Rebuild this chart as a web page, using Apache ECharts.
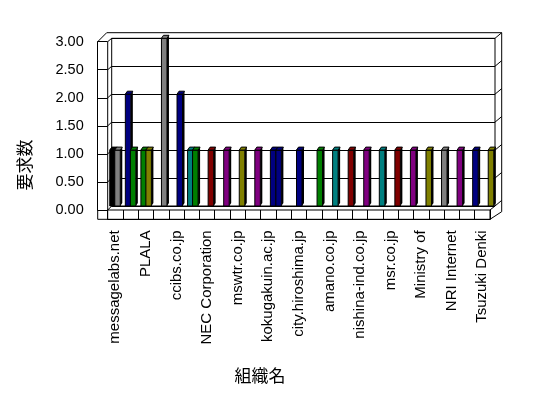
<!DOCTYPE html>
<html>
<head>
<meta charset="utf-8">
<script src="https://cdn.jsdelivr.net/npm/echarts@6/dist/echarts.min.js"></script>
<style>
html, body { margin: 0; padding: 0; background: #fff; }
#main { width: 548px; height: 398px; }
</style>
</head>
<body>
<div id="main"></div>
<script>
// 組織ごとの要求数（偶数番目だけラベル表示）
var categories = [
	'messagelabs.net', '', 'PLALA', '', 'ccibs.co.jp', '', 'NEC Corporation', '',
	'mswtr.co.jp', '', 'kokugakuin.ac.jp', '', 'city.hiroshima.jp', '', 'amano.co.jp', '',
	'nishina-ind.co.jp', '', 'msr.co.jp', '', 'Ministry of', '', 'NRI Internet', '', 'Tsuzuki Denki'
];
var yTicks = [0, 0.5, 1, 1.5, 2, 2.5, 3];

// 棒の値（前列・中列・後列）
var leftValues = [1, 2, 1, null, null, 1, null, null, null, null, null, null, 1, null, null, null, null, null, null, null, null, null, null, null, null];
var midValues = [1, 1, 1, 3, 2, 1, 1, 1, 1, 1, 1, null, null, 1, 1, 1, 1, 1, 1, 1, 1, 1, 1, 1, 1];
var rightValues = [null, null, null, null, null, null, null, null, null, null, 1, null, null, null, null, null, null, null, null, null, null, null, null, null, null];

var leftColors = ['#000000', '#000080', '#008000', null, null, '#008080', null, null, null, null, null, null, '#000080', null, null, null, null, null, null, null, null, null, null, null, null];
var midColors = ['#808080', '#008000', '#808000', '#808080', '#000080', '#008000', '#800000', '#800080', '#808000', '#800080', '#000080', null, null,
	'#008000', '#008080', '#800000', '#800080', '#008080', '#800000', '#800080', '#808000', '#808080', '#800080', '#000080', '#808000'];
var rightColors = [null, null, null, null, null, null, null, null, null, null, '#000080', null, null, null, null, null, null, null, null, null, null, null, null, null, null];

var FONT = "'Liberation Sans', 'Noto Sans CJK JP', sans-serif";
var FX = 97.7, FX2 = 107.7, BX = 111.7, BX2 = 495, RX = 501.7;

function toData(values) {
	var out = [];
	values.forEach(function (v, i) {
		if (v != null) out.push([i, v]);
	});
	return out;
}

function barRender(offset, colors) {
	return function (params, api) {
		var i = api.value(0), v = api.value(1);
		var b = api.coord([i, 0]), t = api.coord([i, v]);
		var x = b[0] + offset, w = 5.5, dx = 2, dy = -3;
		var c = colors[i];
		return {
			type: 'group',
			children: [
				{type: 'polygon', shape: {points: [[x + w, t[1]], [x + w + dx, t[1] + dy], [x + w + dx, b[1] + dy], [x + w, b[1]]]},
					style: {fill: '#000'}},
				{type: 'rect', shape: {x: x, y: t[1], width: w, height: b[1] - t[1]},
					style: {fill: c, stroke: '#000', lineWidth: 1}},
				{type: 'polygon', shape: {points: [[x, t[1]], [x + dx, t[1] + dy], [x + w + dx, t[1] + dy], [x + w, t[1]]]},
					style: {fill: c, stroke: '#000', lineWidth: 1}}
			]
		};
	};
}

function barSeries(values, colors, offset) {
	return {
		type: 'custom',
		xAxisIndex: 0,
		yAxisIndex: 0,
		silent: true,
		renderItem: barRender(offset, colors),
		encode: {x: 0, y: 1},
		data: toData(values)
	};
}

var chart = echarts.init(document.getElementById('main'));
var option = {
	backgroundColor: '#fff',
	animation: false,
	grid: [
		{left: 108, right: 51, top: 38.3, bottom: 192},   // 棒
		{left: FX2, right: 58, top: 210, bottom: 178.7, show: true, borderColor: '#000', borderWidth: 1},   // 床の前面
		{left: FX, width: 10, top: 41.7, bottom: 188},   // 左壁
		{left: BX, right: 548 - BX2, top: 38.3, bottom: 192, show: true, borderColor: '#000', borderWidth: 1}   // 奥の壁
	],
	xAxis: [
		{gridIndex: 0, type: 'category', data: categories, show: false},
		{gridIndex: 1, type: 'category', data: categories,
			axisLine: {lineStyle: {color: '#000'}},
			axisTick: {show: false},
			splitLine: {show: true, interval: 0, lineStyle: {color: '#000', width: 1}},
			axisLabel: {interval: 1, rotate: 90, margin: 11, color: '#000', fontSize: 15, fontFamily: FONT}
		},
		{gridIndex: 2, type: 'value', show: false},
		{gridIndex: 3, type: 'value', show: false}
	],
	yAxis: [
		{gridIndex: 0, type: 'value', min: 0, max: 3, interval: 0.5, show: false},
		{gridIndex: 1, type: 'value', show: false},
		{gridIndex: 2, type: 'value', min: 0, max: 3, interval: 0.5, position: 'left',
			axisLine: {show: true, lineStyle: {color: '#000'}},
			axisTick: {show: true, inside: true, length: 10, lineStyle: {color: '#000'}},
			splitLine: {show: false},
			axisLabel: {margin: 14, color: '#000', fontSize: 14.5, fontFamily: FONT,
				formatter: function (v) { return v.toFixed(2); }}
		},
		{gridIndex: 3, type: 'value', min: 0, max: 3, interval: 0.5,
			axisLine: {show: false}, axisTick: {show: false}, axisLabel: {show: false},
			splitLine: {show: true, lineStyle: {color: '#000', width: 1}}
		}
	],
	series: [
		barSeries(leftValues, leftColors, -6),
		barSeries(midValues, midColors, -1),
		barSeries(rightValues, rightColors, 4.5)
	]
};
chart.setOption(option);

// 3D風の枠線
var lines = [];
function seg(x1, y1, x2, y2) {
	lines.push({type: 'line', silent: true, shape: {x1: x1, y1: y1, x2: x2, y2: y2},
		style: {stroke: '#000', lineWidth: 1}});
}
var f0 = chart.convertToPixel({yAxisIndex: 2}, 0);
var f3 = chart.convertToPixel({yAxisIndex: 2}, 3);
var b0 = chart.convertToPixel({yAxisIndex: 3}, 0);
var b3 = chart.convertToPixel({yAxisIndex: 3}, 3);
var floorBottom = f0 + 9.3;
yTicks.forEach(function (v) {
	var fy = chart.convertToPixel({yAxisIndex: 2}, v);
	var by = chart.convertToPixel({yAxisIndex: 3}, v);
	seg(FX2, fy, BX, by);
	seg(BX2, by, RX, by - 5.6);
});
seg(FX2, f3, FX2, f0);
seg(FX, f0, FX, floorBottom);
seg(FX, floorBottom, FX2, floorBottom);
seg(FX, f3, FX2 - 1, b3 - 5.6);
seg(FX2 - 1, b3 - 5.6, RX, b3 - 5.6);
seg(RX, b3 - 5.6, RX, b0 + 5.7);
seg(490, floorBottom, RX, b0 + 5.7);
seg(490, f0, BX2, b0);

chart.setOption({
	graphic: lines.concat([
		{type: 'text', x: 25, y: 165, rotation: Math.PI / 2,
			style: {text: '要求数', font: "17px 'Noto Sans CJK JP'", fill: '#000', align: 'center', verticalAlign: 'middle'}},
		{type: 'text', x: 260, y: 376, 
			style: {text: '組織名', font: "17px 'Noto Sans CJK JP'", fill: '#000', align: 'center', verticalAlign: 'middle'}}
	])
});
</script>
</body>
</html>
